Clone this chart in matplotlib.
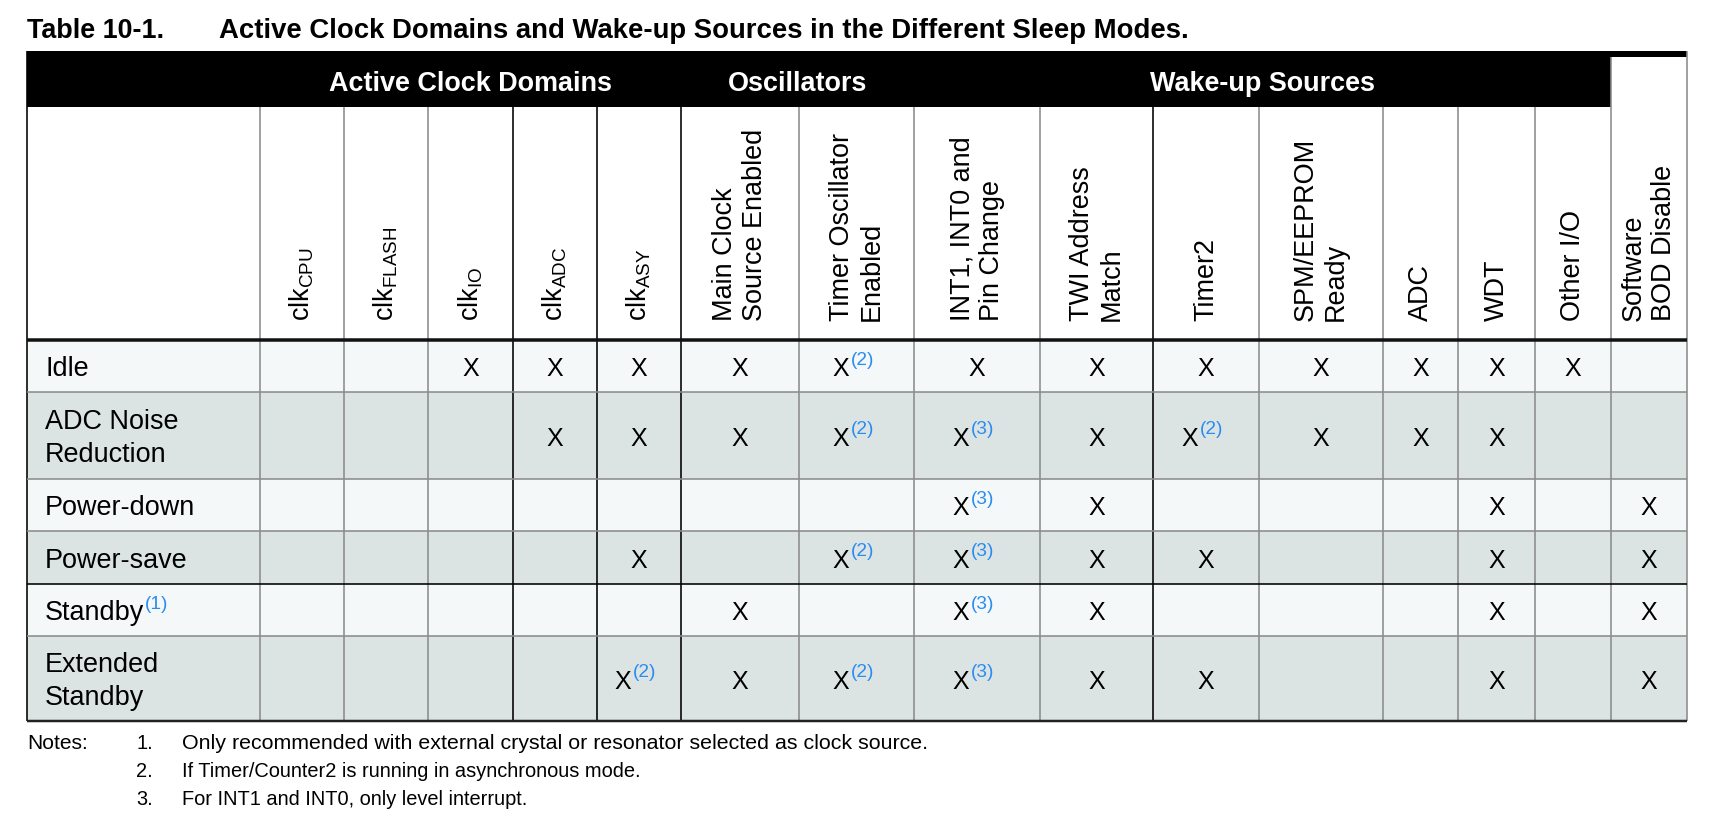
import matplotlib
matplotlib.use("Agg")
import matplotlib.pyplot as plt

plt.rcParams['font.family'] = ['Liberation Sans', 'DejaVu Sans']
plt.rcParams['mathtext.fontset'] = 'custom'
plt.rcParams['mathtext.rm'] = 'Liberation Sans'

TITLE_NUM = "Table 10-1."
TITLE = "Active Clock Domains and Wake-up Sources in the Different Sleep Modes."

GROUPS = ["Active Clock Domains", "Oscillators", "Wake-up Sources"]
GROUP_SPAN = [(0, 5), (5, 7), (7, 14)]   # column index ranges

COLUMNS = [r"clk$_\mathregular{CPU}$", r"clk$_\mathregular{FLASH}$", r"clk$_\mathregular{IO}$",
           r"clk$_\mathregular{ADC}$", r"clk$_\mathregular{ASY}$",
           "Main Clock\nSource Enabled", "Timer Oscillator\nEnabled",
           "INT1, INT0 and\nPin Change", "TWI Address\nMatch", "Timer2",
           "SPM/EEPROM\nReady", "ADC", "WDT", "Other I/O", "Software\nBOD Disable"]

MODES = ["Idle", "ADC Noise\nReduction", "Power-down", "Power-save", "Standby", "Extended\nStandby"]
MODE_NOTE = ["", "", "", "", "1", ""]

# "X" = active, "X2"/"X3" = active with note 2/3
MARKS = [
    ["", "", "X", "X", "X", "X", "X2", "X", "X", "X", "X", "X", "X", "X", ""],
    ["", "", "", "X", "X", "X", "X2", "X3", "X", "X2", "X", "X", "X", "", ""],
    ["", "", "", "", "", "", "", "X3", "X", "", "", "", "X", "", "X"],
    ["", "", "", "", "X", "", "X2", "X3", "X", "X", "", "", "X", "", "X"],
    ["", "", "", "", "", "X", "", "X3", "X", "", "", "", "X", "", "X"],
    ["", "", "", "", "X2", "X", "X2", "X3", "X", "X", "", "", "X", "", "X"],
]

NOTES = ["Only recommended with external crystal or resonator selected as clock source.",
         "If Timer/Counter2 is running in asynchronous mode.",
         "For INT1 and INT0, only level interrupt."]

# layout (pixels)
X_EDGES = [27, 260, 344, 428, 513, 597, 681, 799, 914, 1040, 1153, 1259, 1383, 1458, 1535, 1611, 1687]
Y_TOP, Y_BAND, Y_HEAD = 51, 107, 340
Y_ROWS = [340, 392, 479, 531, 584, 636, 721]
LIGHT = "#f5f8f9"
DARK = "#dce4e3"
BLUE = "#2a8cf0"
GRID = "#8c8c8c"

W, H = 1718, 838
fig = plt.figure(figsize=(W / 100, H / 100), dpi=100)
ax = fig.add_axes([0, 0, 1, 1])
ax.set_xlim(0, W)
ax.set_ylim(H, 0)
ax.axis("off")
r = fig.canvas.get_renderer()


def px(p):
    return p * 0.72


def width(t):
    bb = t.get_window_extent(renderer=r)
    return bb.width


def fit(t, target):
    t.set_fontsize(t.get_fontsize() * target / width(t))


# title
t = ax.text(27, 31, TITLE_NUM, fontsize=px(26), fontweight="bold", va="center", ha="left")
fit(t, 137)
t = ax.text(219, 31, TITLE, fontsize=px(26), fontweight="bold", va="center", ha="left")
fit(t, 970)

# row backgrounds
for i in range(len(MODES)):
    ax.fill_between([X_EDGES[0], X_EDGES[-1]], Y_ROWS[i], Y_ROWS[i + 1],
                    color=LIGHT if i % 2 == 0 else DARK, lw=0)

# black band with group headers
ax.fill_between([X_EDGES[0], X_EDGES[-2]], Y_TOP, Y_BAND, color="black", lw=0)
ax.fill_between([X_EDGES[-2], X_EDGES[-1]], Y_TOP, Y_TOP + 6, color="black", lw=0)
for g, (a, b) in zip(GROUPS, GROUP_SPAN):
    xc = (X_EDGES[a + 1] + X_EDGES[b + 1]) / 2
    ax.text(xc, 84, g, color="white", fontsize=px(27), fontweight="bold", ha="center", va="center")

# vertical lines
dark_cols = [0, 4, 5, 6, 10]
for k, x in enumerate(X_EDGES):
    top = Y_BAND
    if k == 0 or k == len(X_EDGES) - 1:
        top = Y_TOP
    elif k == len(X_EDGES) - 2:
        top = Y_TOP + 6
    ax.plot([x, x], [top, Y_ROWS[-1]], color="black" if k in dark_cols else GRID,
            lw=px(1.6), solid_capstyle="butt")

# horizontal lines
for k, y in enumerate(Y_ROWS[1:-1]):
    ax.plot([X_EDGES[0], X_EDGES[-1]], [y, y], color="black" if k == 3 else GRID,
            lw=px(1.6), solid_capstyle="butt")
ax.plot([X_EDGES[0], X_EDGES[-1]], [Y_HEAD, Y_HEAD], color="#111111", lw=px(3.5), solid_capstyle="butt")
ax.plot([X_EDGES[0], X_EDGES[-1]], [Y_ROWS[-1], Y_ROWS[-1]], color="#222222", lw=px(2.5), solid_capstyle="butt")

# column headers (rotated)
for j, c in enumerate(COLUMNS):
    xc = (X_EDGES[j + 1] + X_EDGES[j + 2]) / 2
    ax.text(xc, 321, c, rotation=90, ha="center", va="bottom", fontsize=px(27),
            multialignment="left", linespacing=1.18)

# row labels
for i, m in enumerate(MODES):
    yc = (Y_ROWS[i] + Y_ROWS[i + 1]) / 2
    t = ax.text(45, yc + 3, m, ha="left", va="center", fontsize=px(27), linespacing=1.36)
    if MODE_NOTE[i]:
        ax.text(45 + width(t) + 1, yc - 6, "(" + MODE_NOTE[i] + ")", ha="left", va="center",
                fontsize=px(19), color=BLUE)

# marks
for i, row in enumerate(MARKS):
    yc = (Y_ROWS[i] + Y_ROWS[i + 1]) / 2
    for j, v in enumerate(row):
        if not v:
            continue
        xc = (X_EDGES[j + 1] + X_EDGES[j + 2]) / 2
        if len(v) == 1:
            ax.text(xc, yc + 3, "X", ha="center", va="center", fontsize=px(25))
        else:
            ax.text(xc - 16, yc + 3, "X", ha="center", va="center", fontsize=px(25))
            ax.text(xc - 6, yc - 6, "(" + v[1] + ")", ha="left", va="center",
                    fontsize=px(19), color=BLUE)

# notes
ax.text(27, 743, "Notes:", ha="left", va="center", fontsize=px(21))
for k, n in enumerate(NOTES):
    y = 743 + k * 28
    ax.text(153, y, str(k + 1) + ".", ha="right", va="center", fontsize=px(20))
    t = ax.text(182, y, n, ha="left", va="center", fontsize=px(20))
    if k == 0:
        fit(t, 747)

fig.savefig("out.png", dpi=100)
